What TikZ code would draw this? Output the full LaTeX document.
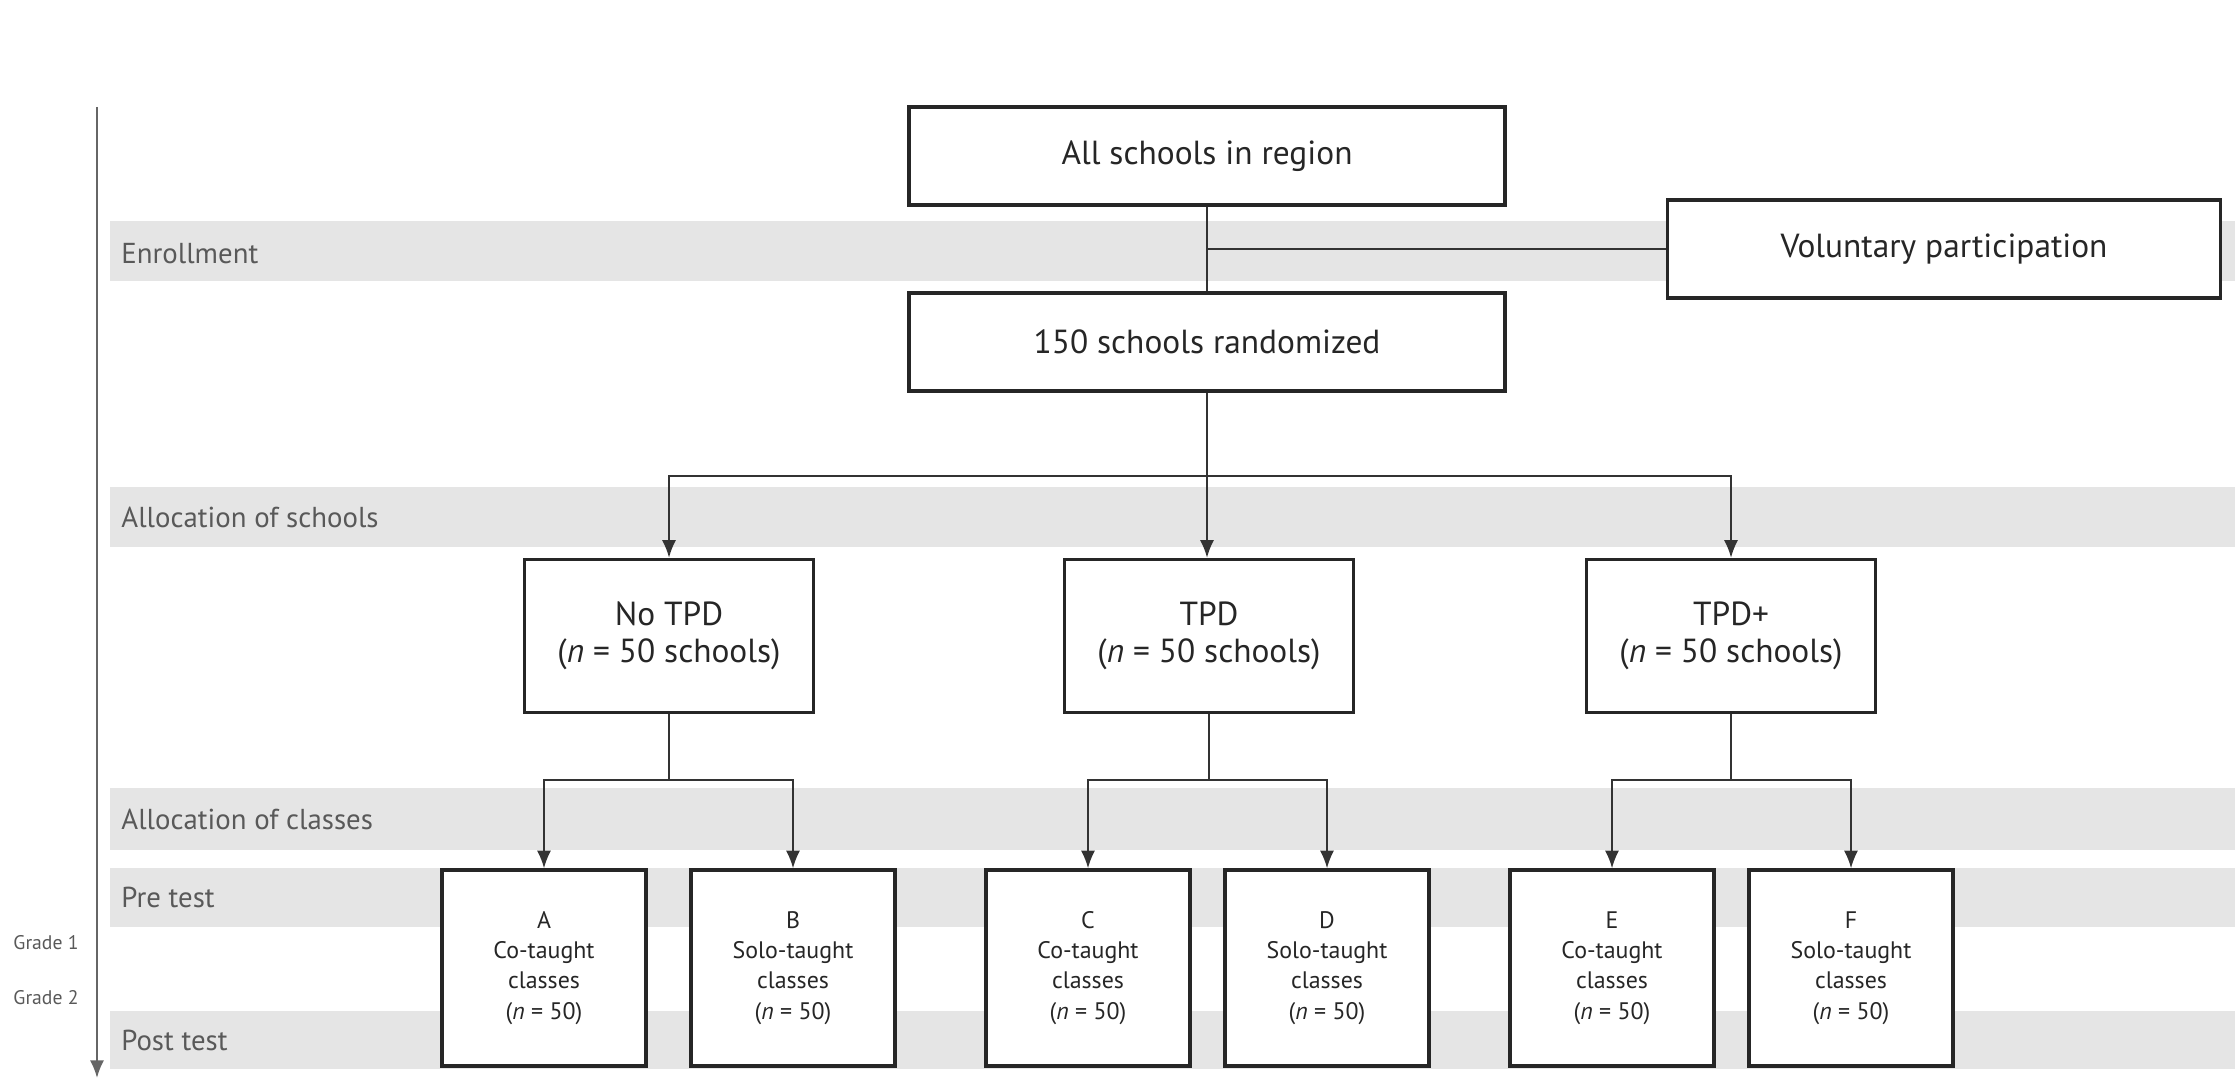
\documentclass[tikz,border=0pt]{standalone}
\usepackage{fontspec}
\setmainfont{PT Sans}
\usetikzlibrary{shapes, arrows.meta}

\tikzset{
  box/.style={rectangle, draw=black!85, line width=1pt, fill=white, align=center, text=black!85, inner sep=0pt},
  mainbox/.style={box, minimum width=5.96cm, minimum height=0.98cm, font=\fontsize{9.5}{11}\selectfont},
  groupbox/.style={box, minimum width=2.89cm, minimum height=1.53cm, font=\fontsize{9.5}{10.5}\selectfont},
  classbox/.style={box, minimum width=2.04cm, minimum height=1.96cm, font=\fontsize{6.8}{8.6}\selectfont},
  bandlabel/.style={anchor=west, text=black!65, font=\fontsize{8.2}{10}\selectfont},
  gradelabel/.style={text=black!65, font=\fontsize{5.6}{6}\selectfont},
  link/.style={draw=black!80, line width=0.5pt},
  arrow/.style={link, -{Latex[length=5pt, width=4pt]}}
}

\begin{document}
\begin{tikzpicture}
    \useasboundingbox (0,0) rectangle (22.35,10.8);

    % Gray bands
    \fill[gray!20] (1.10,7.99) rectangle (22.35,8.59); % Enrollment
    \fill[gray!20] (1.10,5.33) rectangle (22.35,5.93); % Allocation of schools
    \fill[gray!20] (1.10,2.30) rectangle (22.35,2.92); % Allocation of classes
    \fill[gray!20] (1.10,1.53) rectangle (22.35,2.12); % Pre test
    \fill[gray!20] (1.10,0.11) rectangle (22.35,0.69); % Post test

    % Band labels
    \node[bandlabel] (lenroll) at (1.09,8.26) {Enrollment};
    \node[bandlabel] (lschools) at (1.09,5.63) {Allocation of schools};
    \node[bandlabel] (lclasses) at (1.09,2.61) {Allocation of classes};
    \node[bandlabel] (lpre) at (1.09,1.83) {Pre test};
    \node[bandlabel] (lpost) at (1.09,0.40) {Post test};

    % Time axis
    \coordinate (axtop) at (0.97,9.73);
    \coordinate (axbot) at (0.97,0.02);
    \draw[draw=black!60, line width=0.6pt, -{Latex[length=5pt, width=4pt]}] (axtop) -- (axbot);
    \node[gradelabel] (g1) at (0.46,1.37) {Grade 1};
    \node[gradelabel] (g2) at (0.46,0.82) {Grade 2};

    % Enrollment boxes
    \node[mainbox] (all) at (12.07,9.24) {All schools in region};
    \node[mainbox] (rand) at (12.07,7.38) {150 schools randomized};
    \node[mainbox, minimum width=5.53cm] (vol) at (19.44,8.31) {Voluntary participation};

    % Groups of schools
    \node[groupbox] (notpd) at (6.69,4.44) {No TPD\\(\textit{n} = 50 schools)};
    \node[groupbox] (tpd) at (12.09,4.44) {TPD\\(\textit{n} = 50 schools)};
    \node[groupbox] (tpdplus) at (17.31,4.44) {TPD+\\(\textit{n} = 50 schools)};

    % Classes
    \node[classbox] (ca) at (5.44,1.12) {A\\Co-taught\\classes\\(\textit{n} = 50)};
    \node[classbox] (cb) at (7.93,1.12) {B\\Solo-taught\\classes\\(\textit{n} = 50)};
    \node[classbox] (cc) at (10.88,1.12) {C\\Co-taught\\classes\\(\textit{n} = 50)};
    \node[classbox] (cd) at (13.27,1.12) {D\\Solo-taught\\classes\\(\textit{n} = 50)};
    \node[classbox] (ce) at (16.12,1.12) {E\\Co-taught\\classes\\(\textit{n} = 50)};
    \node[classbox] (cf) at (18.51,1.12) {F\\Solo-taught\\classes\\(\textit{n} = 50)};

    % Branch points
    \coordinate (split) at (12.07,6.04);
    \coordinate (splita) at (6.69,3.00);
    \coordinate (splitb) at (12.09,3.00);
    \coordinate (splitc) at (17.31,3.00);

    % Enrollment links
    \draw[link] (all) -- (rand);
    \draw[link] (vol.west) -- (vol.west -| all.south);
    % Allocation of schools
    \draw[link] (rand) -- (split);
    \draw[arrow] (split) -| (notpd.north);
    \draw[arrow] (split) -- (tpd.north -| split);
    \draw[arrow] (split) -| (tpdplus.north);
    % Allocation of classes
    \draw[link] (notpd) -- (splita);
    \draw[arrow] (splita) -| (ca.north);
    \draw[arrow] (splita) -| (cb.north);
    \draw[link] (tpd) -- (splitb);
    \draw[arrow] (splitb) -| (cc.north);
    \draw[arrow] (splitb) -| (cd.north);
    \draw[link] (tpdplus) -- (splitc);
    \draw[arrow] (splitc) -| (ce.north);
    \draw[arrow] (splitc) -| (cf.north);
\end{tikzpicture}
\end{document}
